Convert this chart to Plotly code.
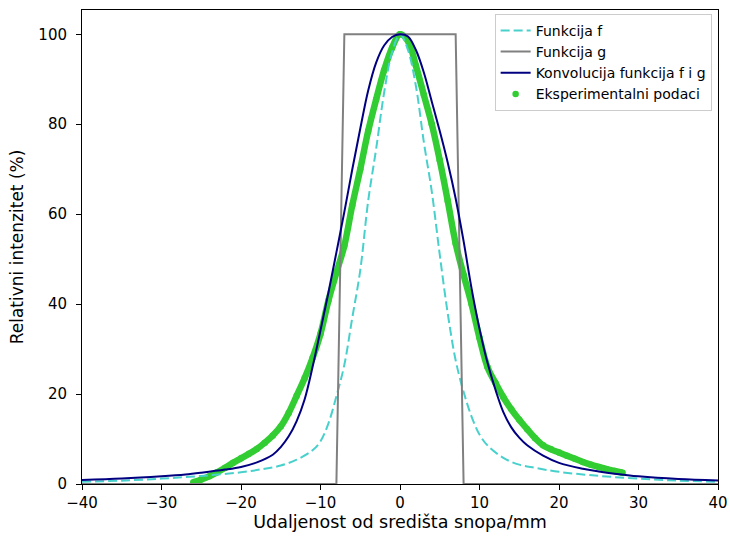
import plotly.graph_objects as go

# Funkcija f
f_x = [-40, -35, -30, -25, -20, -17, -15, -13, -11, -10, -9, -8, -7, -6, -5, -4, -3, -2, -1, 0,
       1, 2, 3, 4, 5, 6, 7, 8, 9, 10, 11, 13, 15, 17, 20, 25, 30, 35, 40]
f_y = [0.5, 0.75, 1.2, 1.8, 2.6, 3.4, 4.1, 5.4, 7.5, 9.5, 13.5, 19.5, 26.5, 37, 47.5, 63, 74.5, 87, 96, 100,
       96.5, 88.5, 76, 65, 51, 38, 27.5, 20.5, 15, 11, 8.6, 5.8, 4.3, 3.6, 2.7, 1.8, 1.2, 0.75, 0.5]

# Funkcija g
g_x = [-40, -8, -7, 7, 8, 40]
g_y = [0, 0, 100, 100, 0, 0]

# Konvolucija
c_x = [-40, -35, -30, -27, -25, -22, -20, -18, -16, -15, -14, -13, -12, -11, -10, -9, -8, -7, -6, -5, -4, -3, -2, -1, 0,
       1, 2, 3, 4, 5, 6, 7, 8, 9, 10, 11, 12, 13, 14, 15, 16, 18, 20, 23, 25, 27, 30, 35, 40]
c_y = [0.9, 1.2, 1.7, 2.1, 2.5, 3.2, 3.8, 4.8, 6.5, 8.2, 10.6, 14, 18.8, 26, 34.2, 42.6, 51.5, 60.5, 70, 79, 87.5, 93.7, 97.5, 99.4, 100,
       99.5, 96.5, 91.5, 85, 78.5, 71.5, 63.5, 54, 43.5, 34.5, 27, 21, 16, 12.6, 10.3, 8.6, 6.3, 4.7, 3.4, 2.8, 2.3, 1.7, 1.1, 0.8]

# Eksperimentalni podaci
e_x = [-26, -25, -24, -23, -22, -21, -20, -19, -18, -17, -16, -15, -14, -13, -12, -11, -10, -9, -8, -7, -6, -5, -4, -3, -2, -1, 0,
       1, 2, 3, 4, 5, 6, 7, 8, 9, 10, 11, 12, 13, 14, 15, 16, 17, 18, 19, 20, 21, 22, 23, 24, 25, 26, 27, 28]
e_y = [0.4, 1.0, 1.7, 2.6, 3.6, 4.7, 5.7, 6.7, 7.8, 9.2, 10.8, 12.8, 15.8, 19.6, 23.5, 28, 33.4, 40.8, 47, 53, 62, 70, 78.5, 85.5, 92, 97, 100,
       98.5, 93, 86.5, 80, 72, 63, 53.5, 46.5, 40, 32.5, 26, 22.5, 19.3, 16.6, 14.3, 12.2, 10.2, 8.6, 7.7, 7.0, 6.3, 5.6, 4.9, 4.3, 3.8, 3.3, 2.9, 2.5]

fig = go.Figure()

# experimental data drawn first (below the lines, as in the original)
fig.add_trace(go.Scatter(x=e_x, y=e_y, mode="lines", line=dict(color="#32CD32", width=6.5, shape="spline"),
                         showlegend=False, hoverinfo="skip"))
fig.add_trace(go.Scatter(x=e_x, y=e_y, mode="markers", marker=dict(color="#32CD32", size=6.5),
                         name="Eksperimentalni podaci", legendrank=4))

fig.add_trace(go.Scatter(x=f_x, y=f_y, mode="lines", name="Funkcija f", legendrank=1,
                         line=dict(color="#48D1CC", width=2, dash="9px,4px", shape="spline")))
fig.add_trace(go.Scatter(x=g_x, y=g_y, mode="lines", name="Funkcija g", legendrank=2,
                         line=dict(color="#808080", width=2)))
fig.add_trace(go.Scatter(x=c_x, y=c_y, mode="lines", name="Konvolucija funkcija f i g", legendrank=3,
                         line=dict(color="#000080", width=2, shape="spline")))

axis_style = dict(showline=True, linecolor="black", linewidth=1, mirror=True, ticks="outside",
                  ticklen=5, tickcolor="black", showgrid=False, zeroline=False, automargin=False,
                  tickfont=dict(size=15, color="black"))

fig.update_layout(
    width=730, height=540,
    margin=dict(l=82, r=12, t=10, b=56),
    paper_bgcolor="white", plot_bgcolor="white",
    font=dict(family="DejaVu Sans", color="black"),
    xaxis=dict(range=[-40, 40], dtick=10,
               title=dict(text="Udaljenost od središta snopa/mm", font=dict(size=17.5), standoff=4), **axis_style),
    yaxis=dict(range=[0, 105.4], dtick=20, ticklabelstandoff=6,
               title=dict(text="Relativni intenzitet (%)", font=dict(size=17), standoff=10), **axis_style),
    legend=dict(x=0.99, y=0.992, xanchor="right", yanchor="top", bgcolor="rgba(255,255,255,0.8)",
                bordercolor="#cccccc", borderwidth=1, font=dict(size=14), tracegroupgap=0,
                itemwidth=30),
)

# drop the default page margin so the figure sits at the window's corner
fig.write_html("out.html", config={"displayModeBar": False},
               post_script="document.body.style.margin='0';document.body.style.overflow='hidden';")
